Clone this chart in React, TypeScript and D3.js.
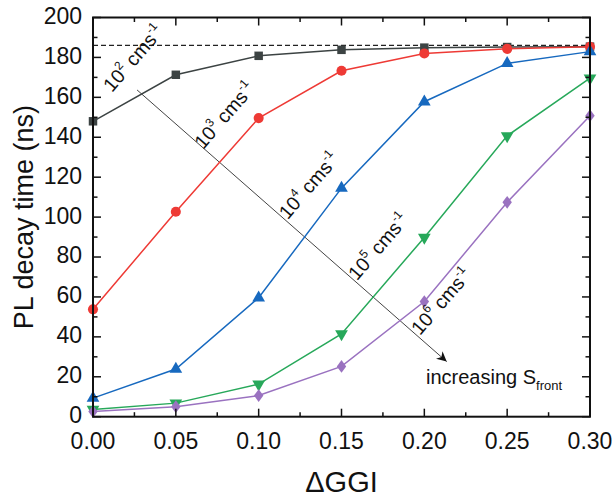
import { useEffect, useRef } from 'react';
import * as d3 from 'd3';

// ΔGGI values (x) shared by all series
const ggi = [0, 0.05, 0.1, 0.15, 0.2, 0.25, 0.3];

// PL decay time (ns) for each front surface recombination velocity
const s1e2 = [148, 171.3, 180.8, 183.8, 184.9, 185.2, 185.4];
const s1e3 = [53.8, 102.7, 149.6, 173.3, 182, 184.3, 185.3];
const s1e4 = [9.3, 23.9, 59.6, 114.5, 157.8, 177, 182.9];
const s1e5 = [3.6, 6.8, 16.3, 41.5, 89.8, 140.7, 169.6];
const s1e6 = [2.6, 5, 10.6, 25.2, 57.7, 107.4, 150.8];

const seriesNames = ['2', '3', '4', '5', '6'];
const seriesColors = ['#3c4343', '#ee3a35', '#1769bf', '#27a85a', '#9a72c0'];
const seriesMarkers = ['square', 'circle', 'triangle', 'triangleDown', 'diamond'];

// label anchors (data coords) for "10^n cms^-1"
const labelX = [0.0115, 0.0665, 0.1175, 0.1594, 0.1974];
const labelY = [162.2, 133.6, 98.4, 67.9, 40.4];

const saturation = 186;
const arrowFrom = [0.0266, 163.7];
const arrowTo = [0.2135, 27.6];

const xTicks = [0, 0.05, 0.1, 0.15, 0.2, 0.25, 0.3];
const yTicks = [0, 20, 40, 60, 80, 100, 120, 140, 160, 180, 200];

export default function App() {
  const svgRef = useRef<SVGSVGElement>(null);

  useEffect(() => {
    if (!svgRef.current) return;
    const width = 614;
    const height = 499;
    const m = { left: 93, right: 24, top: 17.5, bottom: 82.3 };
    const font = 'Liberation Sans, Arial, sans-serif';

    const svg = d3.select(svgRef.current);
    svg.selectAll('*').remove();
    svg.attr('width', width).attr('height', height);

    const x = d3.scaleLinear().domain([0, 0.3]).range([m.left, width - m.right]);
    const y = d3.scaleLinear().domain([0, 200]).range([height - m.bottom, m.top]);

    // dashed saturation line
    svg
      .append('line')
      .attr('x1', x(0))
      .attr('x2', x(0.3))
      .attr('y1', y(saturation))
      .attr('y2', y(saturation))
      .attr('stroke', '#222')
      .attr('stroke-width', 1.3)
      .attr('stroke-dasharray', '5,3');

    // arrow
    svg
      .append('defs')
      .append('marker')
      .attr('id', 'arrowhead')
      .attr('viewBox', '0 0 10 10')
      .attr('refX', 10)
      .attr('refY', 5)
      .attr('markerWidth', 10)
      .attr('markerHeight', 10)
      .attr('markerUnits', 'userSpaceOnUse')
      .attr('orient', 'auto')
      .append('path')
      .attr('d', 'M0,0 L10,5 L0,10 L3,5 Z')
      .attr('fill', '#111');

    svg
      .append('line')
      .attr('x1', x(arrowFrom[0]))
      .attr('y1', y(arrowFrom[1]))
      .attr('x2', x(arrowTo[0]))
      .attr('y2', y(arrowTo[1]))
      .attr('stroke', '#444')
      .attr('stroke-width', 1)
      .attr('marker-end', 'url(#arrowhead)');

    const allSeries = [s1e2, s1e3, s1e4, s1e5, s1e6];
    const line = d3
      .line<number>()
      .x((_, i) => x(ggi[i]))
      .y((d) => y(d));

    const symbolFor: Record<string, d3.SymbolType> = {
      square: d3.symbolSquare,
      circle: d3.symbolCircle,
      triangle: d3.symbolTriangle,
      triangleDown: d3.symbolTriangle,
      diamond: d3.symbolDiamond,
    };
    const sizeFor: Record<string, number> = {
      square: 72,
      circle: 80,
      triangle: 70,
      triangleDown: 70,
      diamond: 58,
    };

    allSeries.forEach((vals, si) => {
      const color = seriesColors[si];
      svg
        .append('path')
        .attr('d', line(vals))
        .attr('fill', 'none')
        .attr('stroke', color)
        .attr('stroke-width', 1.5);

      const kind = seriesMarkers[si];
      const sym = d3.symbol().type(symbolFor[kind]).size(sizeFor[kind]);
      svg
        .append('g')
        .selectAll('path')
        .data(vals)
        .join('path')
        .attr('d', sym())
        .attr('fill', color)
        .attr('transform', (d, i) => {
          const rot = kind === 'triangleDown' ? ' rotate(180)' : '';
          const sc = kind === 'diamond' ? ' scale(1.15,0.9)' : '';
          return `translate(${x(ggi[i])},${y(d)})${rot}${sc}`;
        });
    });

    // series labels
    seriesNames.forEach((n, i) => {
      const t = svg
        .append('text')
        .attr('transform', `translate(${x(labelX[i])},${y(labelY[i])}) rotate(-49)`)
        .style('font-family', font)
        .style('font-size', '19.5px')
        .attr('fill', '#111');
      t.append('tspan').text('10');
      t.append('tspan').attr('dy', -9).style('font-size', '12px').text(n);
      t.append('tspan').attr('dy', 9).text(' cms');
      t.append('tspan').attr('dy', -9).style('font-size', '12px').text('-1');
    });

    // increasing S_front
    const inc = svg
      .append('text')
      .attr('x', 426)
      .attr('y', 384)
      .style('font-family', font)
      .style('font-size', '20px')
      .attr('fill', '#111');
    inc.append('tspan').text('increasing S');
    inc.append('tspan').attr('dy', 6).style('font-size', '13px').text('front');

    // frame
    svg
      .append('rect')
      .attr('x', x(0))
      .attr('y', y(200))
      .attr('width', x(0.3) - x(0))
      .attr('height', y(0) - y(200))
      .attr('fill', 'none')
      .attr('stroke', '#111')
      .attr('stroke-width', 2);

    // ticks (inward) on all four sides
    const xMinor = d3.range(0.025, 0.3, 0.05);
    const yMinor = d3.range(10, 200, 20);
    const major = 8;
    const minor = 4.5;
    const tg = svg.append('g').attr('stroke', '#111').attr('stroke-width', 1.5);
    const addX = (vals: number[], len: number) => {
      vals.forEach((v) => {
        tg.append('line').attr('x1', x(v)).attr('x2', x(v)).attr('y1', y(0)).attr('y2', y(0) - len);
        tg.append('line').attr('x1', x(v)).attr('x2', x(v)).attr('y1', y(200)).attr('y2', y(200) + len);
      });
    };
    const addY = (vals: number[], len: number) => {
      vals.forEach((v) => {
        tg.append('line').attr('y1', y(v)).attr('y2', y(v)).attr('x1', x(0)).attr('x2', x(0) + len);
        tg.append('line').attr('y1', y(v)).attr('y2', y(v)).attr('x1', x(0.3)).attr('x2', x(0.3) - len);
      });
    };
    addX(xTicks, major);
    addX(xMinor, minor);
    addY(yTicks, major);
    addY(yMinor, minor);

    // tick labels
    svg
      .append('g')
      .selectAll('text')
      .data(xTicks)
      .join('text')
      .attr('x', (d) => x(d))
      .attr('y', y(0) + 32)
      .attr('text-anchor', 'middle')
      .style('font-family', font)
      .style('font-size', '23px')
      .attr('fill', '#111')
      .text((d) => d.toFixed(2));

    svg
      .append('g')
      .selectAll('text')
      .data(yTicks)
      .join('text')
      .attr('x', x(0) - 11)
      .attr('y', (d) => y(d))
      .attr('dy', '0.28em')
      .attr('text-anchor', 'end')
      .style('font-family', font)
      .style('font-size', '23px')
      .attr('fill', '#111')
      .text((d) => d);

    // axis titles
    svg
      .append('text')
      .attr('x', (x(0) + x(0.3)) / 2)
      .attr('y', 492)
      .attr('text-anchor', 'middle')
      .style('font-family', font)
      .style('font-size', '29px')
      .attr('fill', '#111')
      .text('ΔGGI');

    svg
      .append('text')
      .attr('transform', `translate(33,${(y(0) + y(200)) / 2}) rotate(-90)`)
      .attr('text-anchor', 'middle')
      .style('font-family', font)
      .style('font-size', '27px')
      .attr('fill', '#111')
      .text('PL decay time (ns)');
  }, []);

  return (
    <div style={{ position: 'absolute', left: 0, top: 0, background: '#fff' }}>
      <svg ref={svgRef} style={{ display: 'block' }} />
    </div>
  );
}
